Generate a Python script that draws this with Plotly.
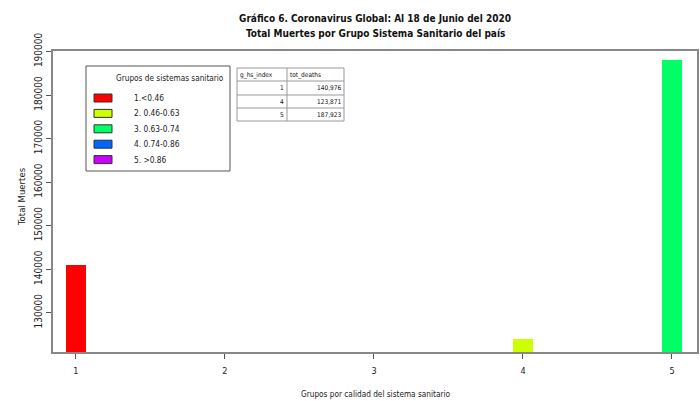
import plotly.graph_objects as go

# ---- data ----
groups = [1, 4, 5]
tot_deaths = [140976, 123871, 187923]
bar_colors = ["#FF0000", "#CCFF00", "#00FF66"]
legend_labels = ["1.<0.46", "2. 0.46-0.63", "3. 0.63-0.74", "4. 0.74-0.86", "5. >0.86"]
legend_colors = ["#FF0000", "#CCFF00", "#00FF66", "#0066FF", "#CC00FF"]
x_ticks = [1, 2, 3, 4, 5]
y_ticks = [130000, 140000, 150000, 160000, 170000, 180000, 190000]
table_header = ["g_hs_index", "tot_deaths"]

W, H = 700, 401
L, R, T, B = 53, 3, 51, 49
PW, PH = W - L - R, H - T - B

def px(x):
    return (x - L) / PW

def py(y):
    return (H - B - y) / PH

FONT = "DejaVu Sans Condensed, Liberation Sans Narrow, Liberation Sans, Arial"

fig = go.Figure()
fig.add_trace(go.Bar(x=groups, y=tot_deaths, marker_color=bar_colors,
                     marker_line_width=0, width=0.14, showlegend=False))

shapes = []
annotations = []

def txt(text, x, y, size, xanchor="center", color="#222", angle=0):
    annotations.append(dict(text=text, x=px(x), y=py(y), xref="paper", yref="paper",
                            xanchor=xanchor, yanchor="middle", showarrow=False, textangle=angle,
                            font=dict(size=size, color=color, family=FONT)))

# titles
txt("<b>Gráfico 6. Coronavirus Global: Al 18 de Junio del 2020</b>", 375, 18, 10, color="#111")
txt("<b>Total Muertes por Grupo Sistema Sanitario del país</b>", 375, 33, 10, color="#111")

# axis titles
txt("Grupos por calidad del sistema sanitario", 375, 394, 8.2)
txt("Total Muertes", 21, 197, 9.5, angle=-90)

# legend box
shapes.append(dict(type="rect", xref="paper", yref="paper", x0=px(86), x1=px(230), y0=py(171), y1=py(66),
                   line=dict(color="#555", width=1), fillcolor="white"))
txt("Grupos de sistemas sanitario", 170, 78, 8.2)
for i, (lab, col) in enumerate(zip(legend_labels, legend_colors)):
    yc = 98 + i * 15.4
    shapes.append(dict(type="rect", xref="paper", yref="paper", x0=px(94), x1=px(112),
                       y0=py(yc + 4), y1=py(yc - 4), line=dict(color="#333", width=1), fillcolor=col))
    txt(lab, 132, yc, 8.3, xanchor="left")

# table
tx0, tx1, tx2 = 237, 287, 344
ty = [68, 81, 95, 108, 121]
for yy in ty:
    shapes.append(dict(type="line", xref="paper", yref="paper", x0=px(tx0), x1=px(tx2), y0=py(yy), y1=py(yy),
                       line=dict(color="#999", width=1)))
for xx in (tx0, tx1, tx2):
    shapes.append(dict(type="line", xref="paper", yref="paper", x0=px(xx), x1=px(xx), y0=py(ty[0]), y1=py(ty[-1]),
                       line=dict(color="#999", width=1)))
txt(table_header[0], tx0 + 1, 74.5, 6.5, xanchor="left", color="#111")
txt(table_header[1], tx1 + 1, 74.5, 6.5, xanchor="left", color="#111")
for i, (g, d) in enumerate(zip(groups, tot_deaths)):
    yc = (ty[i + 1] + ty[i + 2]) / 2
    txt(str(g), tx1 - 1, yc, 6.5, xanchor="right", color="#111")
    txt(f"{d:,}", tx2 - 1, yc, 6.5, xanchor="right", color="#111")

fig.update_layout(
    width=W, height=H, margin=dict(l=L, r=R, t=T, b=B, autoexpand=False),
    paper_bgcolor="white", plot_bgcolor="white",
    shapes=shapes, annotations=annotations,
    font=dict(family=FONT, color="#222"),
    bargap=0,
)
fig.update_xaxes(range=[0.846, 5.168], tickvals=x_ticks, ticktext=[str(v) for v in x_ticks],
                 automargin=False, ticklabelstandoff=4,
                 showgrid=False, zeroline=False, showline=True, mirror=True, linecolor="#888", linewidth=1.5,
                 ticks="outside", ticklen=5, tickcolor="#555", tickfont=dict(size=9, color="#222"))
fig.update_yaxes(range=[121000, 190100], tickvals=y_ticks, ticktext=[str(v) for v in y_ticks],
                 automargin=False,
                 tickangle=-90, showgrid=False, zeroline=False, showline=True, mirror=True,
                 linecolor="#888", linewidth=1.5, ticks="outside", ticklen=5, tickcolor="#555",
                 tickfont=dict(size=10, color="#222"))

fig.write_html("out.html", config={"displayModeBar": False},
               post_script="document.body.style.margin='0';")
